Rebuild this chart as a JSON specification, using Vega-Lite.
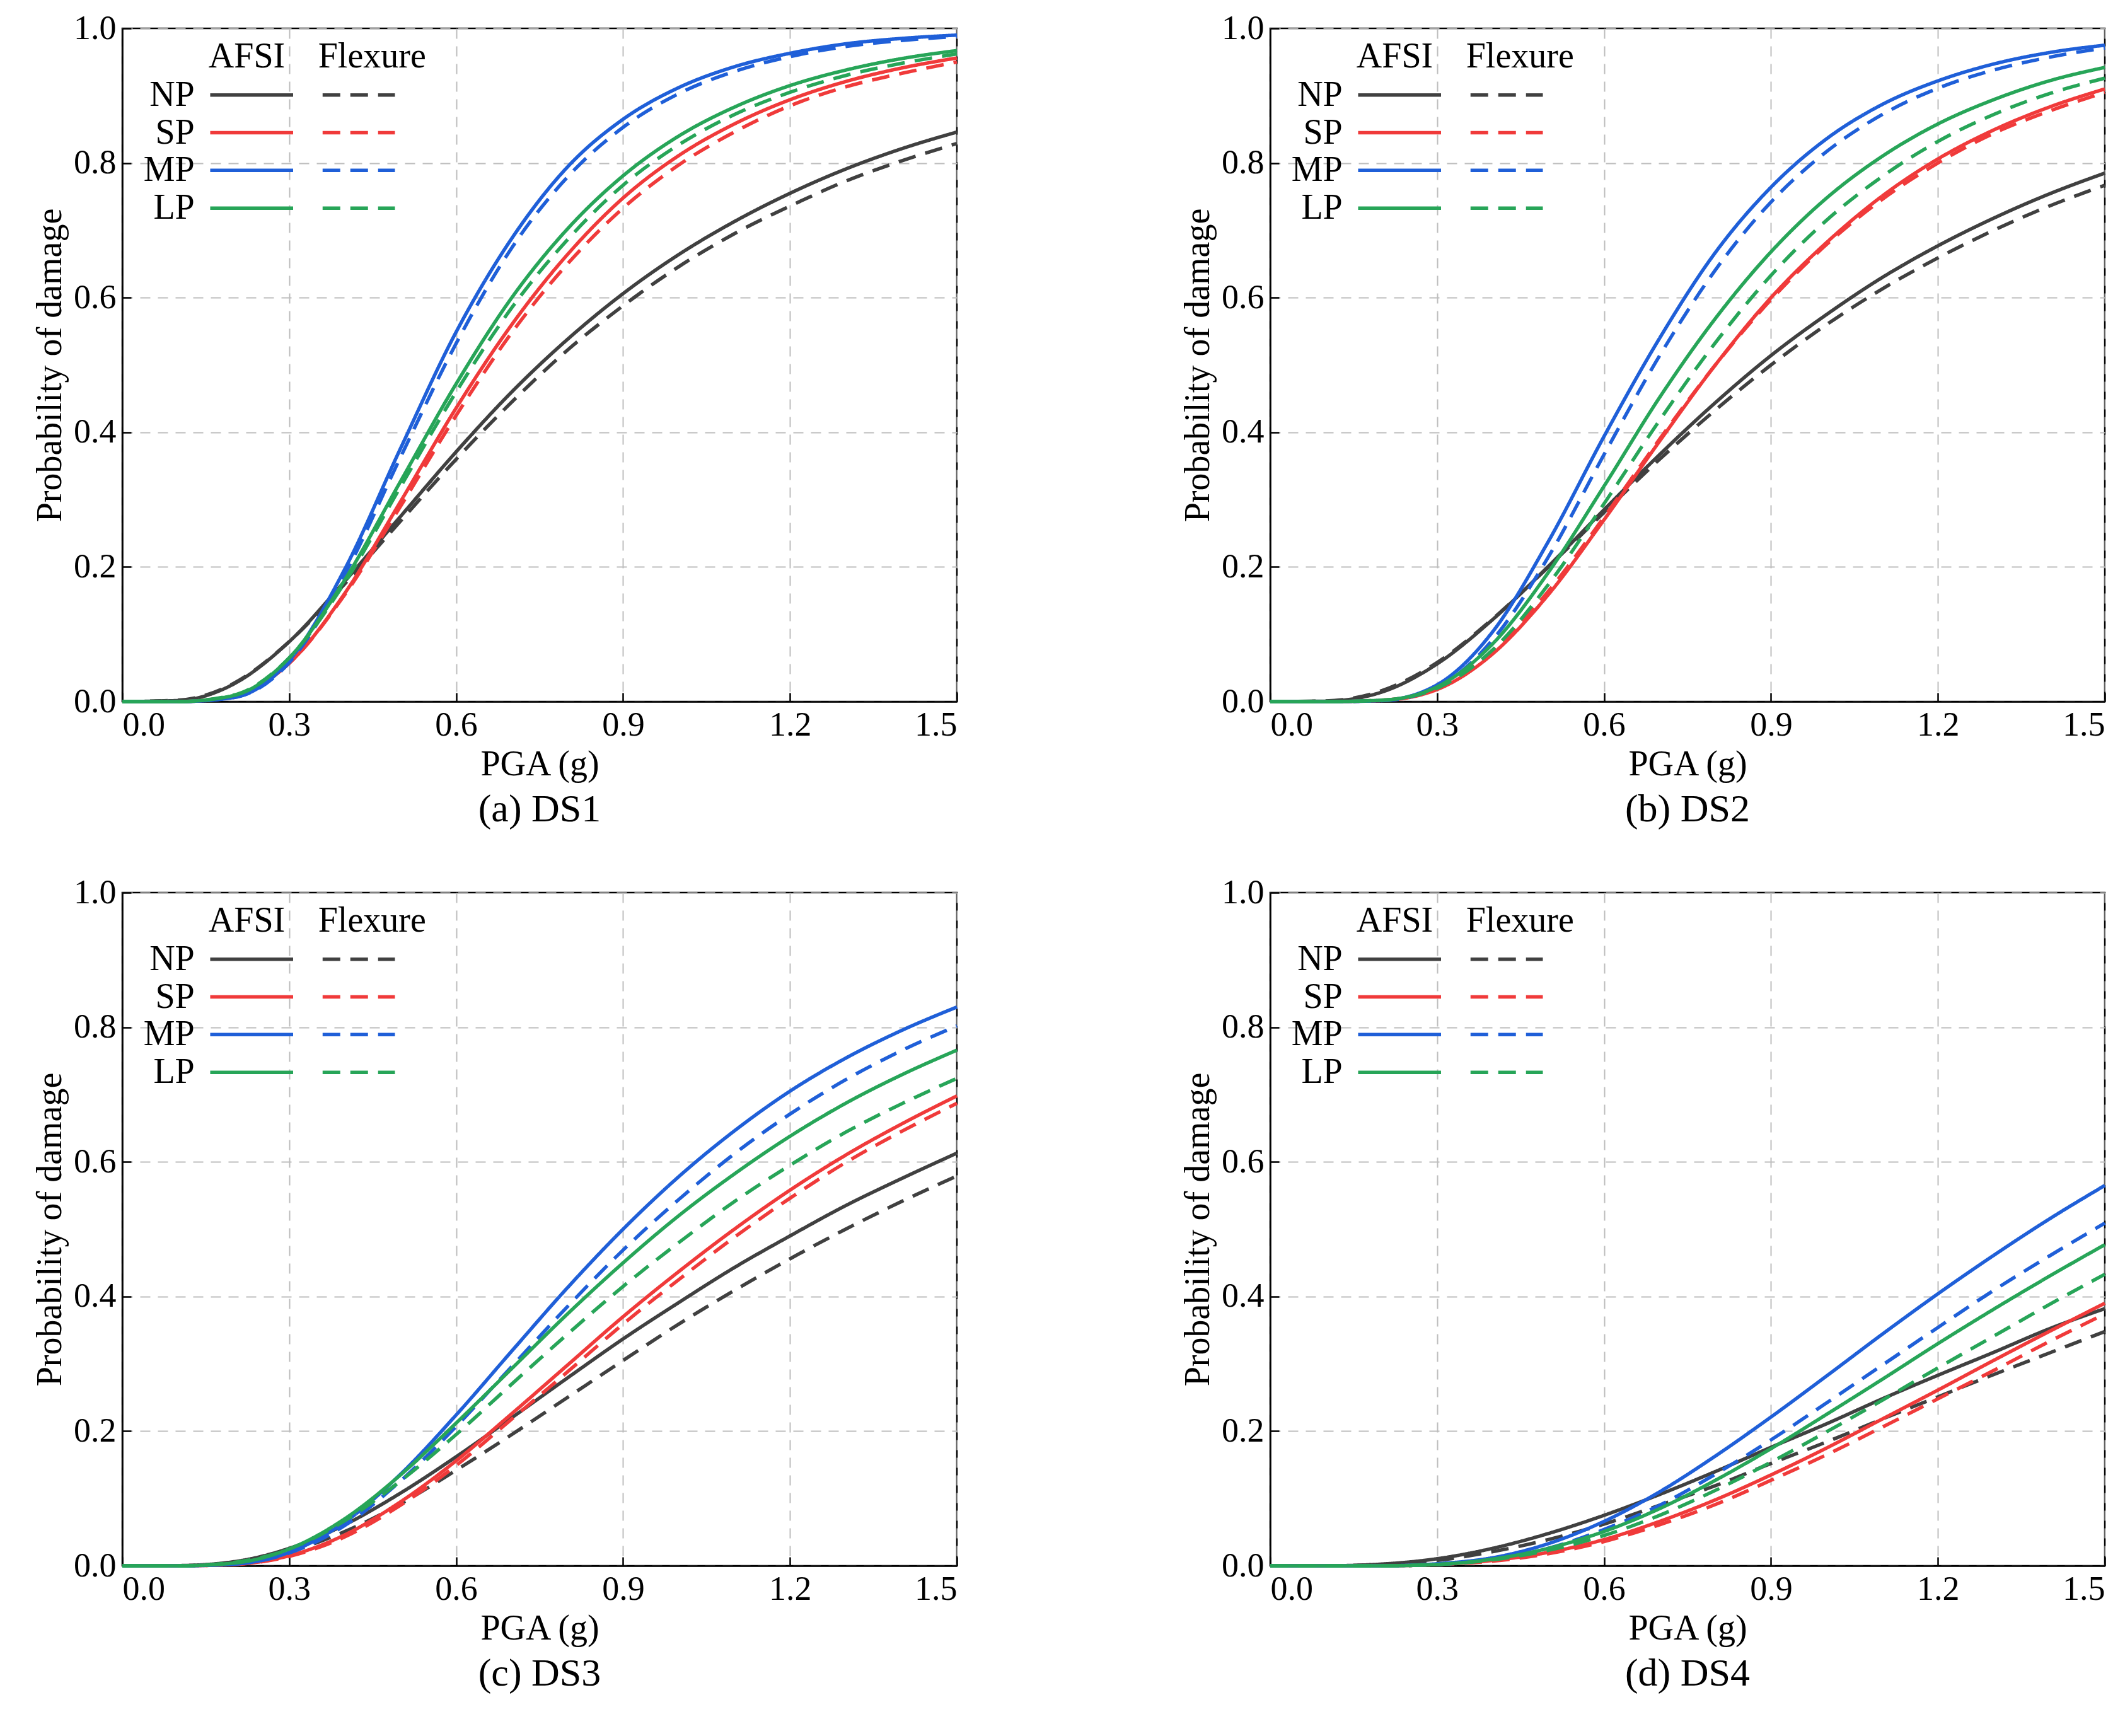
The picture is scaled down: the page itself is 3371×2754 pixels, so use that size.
{
"$schema": "https://vega.github.io/schema/vega-lite/v6.json",
"padding": {"left": 50, "top": 16, "right": 30, "bottom": 10},
"background": "white",
"config": {
  "font": "Liberation Serif",
  "view": {"stroke": "black", "strokeWidth": 2.5},
  "axis": {"labelFont": "Liberation Serif", "titleFont": "Liberation Serif", "labelFontSize": 54, "titleFontSize": 56,
           "titleFontWeight": "normal", "labelColor": "black", "titleColor": "black",
           "grid": true, "gridDash": [16, 12], "gridColor": "#bdbdbd", "gridWidth": 2,
           "domainColor": "black", "domainWidth": 2.5, "tickColor": "black", "tickWidth": 2.5, "tickSize": -14, "labelPadding": 24, "titlePadding": 8},
  "title": {"font": "Liberation Serif", "fontSize": 62, "fontWeight": "normal", "color": "black", "offset": 14},
  "concat": {"spacing": 340}
},
"datasets": {
  "curves": [
    {"p":"DS1","x":0,"NP_A":0,"NP_F":0,"SP_A":0,"SP_F":0,"MP_A":0,"MP_F":0,"LP_A":0,"LP_F":0},
    {"p":"DS1","x":0.1,"NP_A":0.0015,"NP_F":0.002,"SP_A":0,"SP_F":0,"MP_A":0,"MP_F":0,"LP_A":0,"LP_F":0},
    {"p":"DS1","x":0.2,"NP_A":0.026,"NP_F":0.027,"SP_A":0.008,"SP_F":0.0085,"MP_A":0.006,"MP_F":0.006,"LP_A":0.009,"LP_F":0.0096},
    {"p":"DS1","x":0.3,"NP_A":0.089,"NP_F":0.089,"SP_A":0.057,"SP_F":0.057,"MP_A":0.061,"MP_F":0.058,"LP_A":0.065,"LP_F":0.065},
    {"p":"DS1","x":0.4,"NP_A":0.179,"NP_F":0.175,"SP_A":0.161,"SP_F":0.159,"MP_A":0.197,"MP_F":0.189,"LP_A":0.181,"LP_F":0.177},
    {"p":"DS1","x":0.5,"NP_A":0.275,"NP_F":0.268,"SP_A":0.297,"SP_F":0.29,"MP_A":0.376,"MP_F":0.363,"LP_A":0.327,"LP_F":0.319},
    {"p":"DS1","x":0.6,"NP_A":0.371,"NP_F":0.36,"SP_A":0.436,"SP_F":0.425,"MP_A":0.549,"MP_F":0.532,"LP_A":0.472,"LP_F":0.46},
    {"p":"DS1","x":0.7,"NP_A":0.46,"NP_F":0.445,"SP_A":0.56,"SP_F":0.548,"MP_A":0.688,"MP_F":0.674,"LP_A":0.6,"LP_F":0.585},
    {"p":"DS1","x":0.8,"NP_A":0.538,"NP_F":0.522,"SP_A":0.664,"SP_F":0.65,"MP_A":0.794,"MP_F":0.779,"LP_A":0.702,"LP_F":0.686},
    {"p":"DS1","x":0.9,"NP_A":0.606,"NP_F":0.588,"SP_A":0.748,"SP_F":0.733,"MP_A":0.865,"MP_F":0.853,"LP_A":0.781,"LP_F":0.767},
    {"p":"DS1","x":1.0,"NP_A":0.664,"NP_F":0.646,"SP_A":0.811,"SP_F":0.797,"MP_A":0.912,"MP_F":0.903,"LP_A":0.84,"LP_F":0.827},
    {"p":"DS1","x":1.1,"NP_A":0.713,"NP_F":0.695,"SP_A":0.858,"SP_F":0.846,"MP_A":0.943,"MP_F":0.936,"LP_A":0.883,"LP_F":0.872},
    {"p":"DS1","x":1.2,"NP_A":0.755,"NP_F":0.736,"SP_A":0.894,"SP_F":0.885,"MP_A":0.963,"MP_F":0.958,"LP_A":0.915,"LP_F":0.905},
    {"p":"DS1","x":1.3,"NP_A":0.791,"NP_F":0.773,"SP_A":0.921,"SP_F":0.913,"MP_A":0.977,"MP_F":0.973,"LP_A":0.938,"LP_F":0.93},
    {"p":"DS1","x":1.4,"NP_A":0.821,"NP_F":0.803,"SP_A":0.941,"SP_F":0.933,"MP_A":0.985,"MP_F":0.982,"LP_A":0.955,"LP_F":0.948},
    {"p":"DS1","x":1.5,"NP_A":0.846,"NP_F":0.829,"SP_A":0.956,"SP_F":0.95,"MP_A":0.99,"MP_F":0.988,"LP_A":0.967,"LP_F":0.962},
    {"p":"DS2","x":0,"NP_A":0,"NP_F":0,"SP_A":0,"SP_F":0,"MP_A":0,"MP_F":0,"LP_A":0,"LP_F":0},
    {"p":"DS2","x":0.1,"NP_A":0.0006,"NP_F":0.001,"SP_A":0,"SP_F":0,"MP_A":0,"MP_F":0,"LP_A":0,"LP_F":0},
    {"p":"DS2","x":0.2,"NP_A":0.014,"NP_F":0.016,"SP_A":0.0016,"SP_F":0.002,"MP_A":0.0016,"MP_F":0.0013,"LP_A":0.002,"LP_F":0.002},
    {"p":"DS2","x":0.3,"NP_A":0.056,"NP_F":0.058,"SP_A":0.018,"SP_F":0.021,"MP_A":0.025,"MP_F":0.021,"LP_A":0.022,"LP_F":0.02},
    {"p":"DS2","x":0.4,"NP_A":0.122,"NP_F":0.123,"SP_A":0.071,"SP_F":0.075,"MP_A":0.104,"MP_F":0.092,"LP_A":0.086,"LP_F":0.077},
    {"p":"DS2","x":0.5,"NP_A":0.201,"NP_F":0.2,"SP_A":0.159,"SP_F":0.164,"MP_A":0.238,"MP_F":0.215,"LP_A":0.192,"LP_F":0.174},
    {"p":"DS2","x":0.6,"NP_A":0.285,"NP_F":0.281,"SP_A":0.27,"SP_F":0.274,"MP_A":0.394,"MP_F":0.367,"LP_A":0.32,"LP_F":0.294},
    {"p":"DS2","x":0.7,"NP_A":0.367,"NP_F":0.36,"SP_A":0.387,"SP_F":0.39,"MP_A":0.54,"MP_F":0.514,"LP_A":0.452,"LP_F":0.418},
    {"p":"DS2","x":0.8,"NP_A":0.444,"NP_F":0.433,"SP_A":0.5,"SP_F":0.5,"MP_A":0.667,"MP_F":0.641,"LP_A":0.569,"LP_F":0.533},
    {"p":"DS2","x":0.9,"NP_A":0.514,"NP_F":0.5,"SP_A":0.6,"SP_F":0.597,"MP_A":0.764,"MP_F":0.742,"LP_A":0.668,"LP_F":0.633},
    {"p":"DS2","x":1.0,"NP_A":0.575,"NP_F":0.56,"SP_A":0.682,"SP_F":0.679,"MP_A":0.836,"MP_F":0.817,"LP_A":0.748,"LP_F":0.715},
    {"p":"DS2","x":1.1,"NP_A":0.63,"NP_F":0.613,"SP_A":0.751,"SP_F":0.746,"MP_A":0.887,"MP_F":0.872,"LP_A":0.81,"LP_F":0.78},
    {"p":"DS2","x":1.2,"NP_A":0.677,"NP_F":0.659,"SP_A":0.806,"SP_F":0.8,"MP_A":0.922,"MP_F":0.911,"LP_A":0.858,"LP_F":0.832},
    {"p":"DS2","x":1.3,"NP_A":0.718,"NP_F":0.7,"SP_A":0.849,"SP_F":0.844,"MP_A":0.947,"MP_F":0.938,"LP_A":0.894,"LP_F":0.872},
    {"p":"DS2","x":1.4,"NP_A":0.754,"NP_F":0.736,"SP_A":0.883,"SP_F":0.877,"MP_A":0.964,"MP_F":0.957,"LP_A":0.922,"LP_F":0.903},
    {"p":"DS2","x":1.5,"NP_A":0.785,"NP_F":0.767,"SP_A":0.91,"SP_F":0.905,"MP_A":0.975,"MP_F":0.971,"LP_A":0.942,"LP_F":0.926},
    {"p":"DS3","x":0,"NP_A":0,"NP_F":0,"SP_A":0,"SP_F":0,"MP_A":0,"MP_F":0,"LP_A":0,"LP_F":0},
    {"p":"DS3","x":0.1,"NP_A":0.0003,"NP_F":0.0002,"SP_A":0,"SP_F":0,"MP_A":0,"MP_F":0,"LP_A":0,"LP_F":0},
    {"p":"DS3","x":0.2,"NP_A":0.006,"NP_F":0.005,"SP_A":0.002,"SP_F":0.002,"MP_A":0.0025,"MP_F":0.0025,"LP_A":0.004,"LP_F":0.005},
    {"p":"DS3","x":0.3,"NP_A":0.026,"NP_F":0.021,"SP_A":0.015,"SP_F":0.014,"MP_A":0.02,"MP_F":0.019,"LP_A":0.025,"LP_F":0.025},
    {"p":"DS3","x":0.4,"NP_A":0.061,"NP_F":0.051,"SP_A":0.046,"SP_F":0.043,"MP_A":0.065,"MP_F":0.06,"LP_A":0.07,"LP_F":0.067},
    {"p":"DS3","x":0.5,"NP_A":0.108,"NP_F":0.092,"SP_A":0.095,"SP_F":0.09,"MP_A":0.136,"MP_F":0.126,"LP_A":0.135,"LP_F":0.126},
    {"p":"DS3","x":0.6,"NP_A":0.162,"NP_F":0.142,"SP_A":0.156,"SP_F":0.149,"MP_A":0.224,"MP_F":0.207,"LP_A":0.212,"LP_F":0.195},
    {"p":"DS3","x":0.7,"NP_A":0.22,"NP_F":0.195,"SP_A":0.226,"SP_F":0.218,"MP_A":0.319,"MP_F":0.296,"LP_A":0.293,"LP_F":0.27},
    {"p":"DS3","x":0.8,"NP_A":0.279,"NP_F":0.25,"SP_A":0.298,"SP_F":0.288,"MP_A":0.413,"MP_F":0.385,"LP_A":0.374,"LP_F":0.344},
    {"p":"DS3","x":0.9,"NP_A":0.337,"NP_F":0.305,"SP_A":0.37,"SP_F":0.359,"MP_A":0.5,"MP_F":0.469,"LP_A":0.45,"LP_F":0.415},
    {"p":"DS3","x":1.0,"NP_A":0.391,"NP_F":0.359,"SP_A":0.437,"SP_F":0.425,"MP_A":0.578,"MP_F":0.544,"LP_A":0.52,"LP_F":0.48},
    {"p":"DS3","x":1.1,"NP_A":0.443,"NP_F":0.409,"SP_A":0.5,"SP_F":0.488,"MP_A":0.646,"MP_F":0.612,"LP_A":0.582,"LP_F":0.541},
    {"p":"DS3","x":1.2,"NP_A":0.49,"NP_F":0.456,"SP_A":0.558,"SP_F":0.546,"MP_A":0.705,"MP_F":0.671,"LP_A":0.638,"LP_F":0.595},
    {"p":"DS3","x":1.3,"NP_A":0.535,"NP_F":0.5,"SP_A":0.61,"SP_F":0.599,"MP_A":0.754,"MP_F":0.722,"LP_A":0.687,"LP_F":0.644},
    {"p":"DS3","x":1.4,"NP_A":0.575,"NP_F":0.541,"SP_A":0.656,"SP_F":0.645,"MP_A":0.795,"MP_F":0.765,"LP_A":0.729,"LP_F":0.686},
    {"p":"DS3","x":1.5,"NP_A":0.613,"NP_F":0.579,"SP_A":0.698,"SP_F":0.687,"MP_A":0.83,"MP_F":0.802,"LP_A":0.766,"LP_F":0.724},
    {"p":"DS4","x":0,"NP_A":0,"NP_F":0,"SP_A":0,"SP_F":0,"MP_A":0,"MP_F":0,"LP_A":0,"LP_F":0},
    {"p":"DS4","x":0.1,"NP_A":0,"NP_F":0,"SP_A":0,"SP_F":0,"MP_A":0,"MP_F":0,"LP_A":0,"LP_F":0},
    {"p":"DS4","x":0.2,"NP_A":0.0025,"NP_F":0.002,"SP_A":0,"SP_F":0,"MP_A":0,"MP_F":0,"LP_A":0,"LP_F":0},
    {"p":"DS4","x":0.3,"NP_A":0.0105,"NP_F":0.008,"SP_A":0.002,"SP_F":0.002,"MP_A":0.003,"MP_F":0.002,"LP_A":0.002,"LP_F":0.002},
    {"p":"DS4","x":0.4,"NP_A":0.026,"NP_F":0.021,"SP_A":0.008,"SP_F":0.007,"MP_A":0.012,"MP_F":0.01,"LP_A":0.01,"LP_F":0.009},
    {"p":"DS4","x":0.5,"NP_A":0.048,"NP_F":0.039,"SP_A":0.02,"SP_F":0.018,"MP_A":0.033,"MP_F":0.026,"LP_A":0.026,"LP_F":0.023},
    {"p":"DS4","x":0.6,"NP_A":0.075,"NP_F":0.062,"SP_A":0.039,"SP_F":0.036,"MP_A":0.066,"MP_F":0.054,"LP_A":0.051,"LP_F":0.045},
    {"p":"DS4","x":0.7,"NP_A":0.106,"NP_F":0.09,"SP_A":0.066,"SP_F":0.061,"MP_A":0.11,"MP_F":0.09,"LP_A":0.085,"LP_F":0.075},
    {"p":"DS4","x":0.8,"NP_A":0.14,"NP_F":0.119,"SP_A":0.098,"SP_F":0.091,"MP_A":0.163,"MP_F":0.136,"LP_A":0.127,"LP_F":0.112},
    {"p":"DS4","x":0.9,"NP_A":0.176,"NP_F":0.152,"SP_A":0.135,"SP_F":0.127,"MP_A":0.221,"MP_F":0.187,"LP_A":0.174,"LP_F":0.154},
    {"p":"DS4","x":1.0,"NP_A":0.211,"NP_F":0.184,"SP_A":0.175,"SP_F":0.165,"MP_A":0.282,"MP_F":0.242,"LP_A":0.225,"LP_F":0.199},
    {"p":"DS4","x":1.1,"NP_A":0.248,"NP_F":0.218,"SP_A":0.218,"SP_F":0.206,"MP_A":0.344,"MP_F":0.298,"LP_A":0.277,"LP_F":0.246},
    {"p":"DS4","x":1.2,"NP_A":0.283,"NP_F":0.251,"SP_A":0.261,"SP_F":0.248,"MP_A":0.404,"MP_F":0.354,"LP_A":0.33,"LP_F":0.294},
    {"p":"DS4","x":1.3,"NP_A":0.317,"NP_F":0.284,"SP_A":0.305,"SP_F":0.29,"MP_A":0.461,"MP_F":0.409,"LP_A":0.381,"LP_F":0.341},
    {"p":"DS4","x":1.4,"NP_A":0.352,"NP_F":0.316,"SP_A":0.348,"SP_F":0.333,"MP_A":0.515,"MP_F":0.46,"LP_A":0.43,"LP_F":0.388},
    {"p":"DS4","x":1.5,"NP_A":0.382,"NP_F":0.348,"SP_A":0.39,"SP_F":0.374,"MP_A":0.565,"MP_F":0.509,"LP_A":0.477,"LP_F":0.433}
  ],
  "leg": [
    {"k":"NP_A","x1":0.158,"x2":0.307,"y":0.901},
    {"k":"NP_F","x1":0.36,"x2":0.49,"y":0.901},
    {"k":"SP_A","x1":0.158,"x2":0.307,"y":0.845},
    {"k":"SP_F","x1":0.36,"x2":0.49,"y":0.845},
    {"k":"MP_A","x1":0.158,"x2":0.307,"y":0.789},
    {"k":"MP_F","x1":0.36,"x2":0.49,"y":0.789},
    {"k":"LP_A","x1":0.158,"x2":0.307,"y":0.733},
    {"k":"LP_F","x1":0.36,"x2":0.49,"y":0.733}
  ],
  "lab": [
    {"t":"NP","x":0.13,"y":0.901},
    {"t":"SP","x":0.13,"y":0.845},
    {"t":"MP","x":0.13,"y":0.789},
    {"t":"LP","x":0.13,"y":0.733}
  ],
  "hdr": [
    {"t":"AFSI","x":0.155,"y":0.958},
    {"t":"Flexure","x":0.352,"y":0.958}
  ]
},
"vconcat": [
 {"hconcat": [
  {"width": 1324, "height": 1068, "title": {"text": "(a) DS1", "orient": "bottom"},
   "layer": [
    {"data": {"name": "curves"}, "transform": [{"filter": "datum.p == 'DS1'"}, {"fold": ["NP_A","NP_F","SP_A","SP_F","MP_A","MP_F","LP_A","LP_F"], "as": ["k","v"]}],
     "mark": {"type": "line", "interpolate": "monotone", "strokeWidth": 5.5},
     "encoding": {
      "x": {"field": "x", "type": "quantitative", "title": "PGA (g)", "scale": {"domain": [0, 1.5], "nice": false}, "axis": {"values": [0, 0.3, 0.6, 0.9, 1.2, 1.5], "format": ".1f"}},
      "y": {"field": "v", "type": "quantitative", "title": "Probability of damage", "scale": {"domain": [0, 1], "nice": false}, "axis": {"values": [0, 0.2, 0.4, 0.6, 0.8, 1.0], "format": ".1f"}},
      "color": {"field": "k", "type": "nominal", "legend": null, "scale": {"domain": ["NP_A","NP_F","SP_A","SP_F","MP_A","MP_F","LP_A","LP_F"], "range": ["#404040","#404040","#f03a3a","#f03a3a","#1f5fd8","#1f5fd8","#27a558","#27a558"]}},
      "strokeDash": {"field": "k", "type": "nominal", "legend": null, "scale": {"domain": ["NP_A","NP_F","SP_A","SP_F","MP_A","MP_F","LP_A","LP_F"], "range": [[1,0],[28,16],[1,0],[28,16],[1,0],[28,16],[1,0],[28,16]]}}}},
    {"data": {"name": "leg"}, "mark": {"type": "rule", "strokeWidth": 5.5},
     "encoding": {"x": {"field": "x1", "type": "quantitative"}, "x2": {"field": "x2"}, "y": {"field": "y", "type": "quantitative"},
      "color": {"field": "k", "type": "nominal", "legend": null}, "strokeDash": {"field": "k", "type": "nominal", "legend": null}}},
    {"data": {"name": "lab"}, "mark": {"type": "text", "align": "right", "baseline": "middle", "fontSize": 56, "font": "Liberation Serif"},
     "encoding": {"x": {"field": "x", "type": "quantitative"}, "y": {"field": "y", "type": "quantitative"}, "text": {"field": "t"}}},
    {"data": {"name": "hdr"}, "mark": {"type": "text", "align": "left", "baseline": "middle", "fontSize": 56, "font": "Liberation Serif"},
     "encoding": {"x": {"field": "x", "type": "quantitative"}, "y": {"field": "y", "type": "quantitative"}, "text": {"field": "t"}}}
   ]},
  {"width": 1324, "height": 1068, "title": {"text": "(b) DS2", "orient": "bottom"},
   "layer": [
    {"data": {"name": "curves"}, "transform": [{"filter": "datum.p == 'DS2'"}, {"fold": ["NP_A","NP_F","SP_A","SP_F","MP_A","MP_F","LP_A","LP_F"], "as": ["k","v"]}],
     "mark": {"type": "line", "interpolate": "monotone", "strokeWidth": 5.5},
     "encoding": {
      "x": {"field": "x", "type": "quantitative", "title": "PGA (g)", "scale": {"domain": [0, 1.5], "nice": false}, "axis": {"values": [0, 0.3, 0.6, 0.9, 1.2, 1.5], "format": ".1f"}},
      "y": {"field": "v", "type": "quantitative", "title": "Probability of damage", "scale": {"domain": [0, 1], "nice": false}, "axis": {"values": [0, 0.2, 0.4, 0.6, 0.8, 1.0], "format": ".1f"}},
      "color": {"field": "k", "type": "nominal", "legend": null, "scale": {"domain": ["NP_A","NP_F","SP_A","SP_F","MP_A","MP_F","LP_A","LP_F"], "range": ["#404040","#404040","#f03a3a","#f03a3a","#1f5fd8","#1f5fd8","#27a558","#27a558"]}},
      "strokeDash": {"field": "k", "type": "nominal", "legend": null, "scale": {"domain": ["NP_A","NP_F","SP_A","SP_F","MP_A","MP_F","LP_A","LP_F"], "range": [[1,0],[28,16],[1,0],[28,16],[1,0],[28,16],[1,0],[28,16]]}}}},
    {"data": {"name": "leg"}, "mark": {"type": "rule", "strokeWidth": 5.5},
     "encoding": {"x": {"field": "x1", "type": "quantitative"}, "x2": {"field": "x2"}, "y": {"field": "y", "type": "quantitative"},
      "color": {"field": "k", "type": "nominal", "legend": null}, "strokeDash": {"field": "k", "type": "nominal", "legend": null}}},
    {"data": {"name": "lab"}, "mark": {"type": "text", "align": "right", "baseline": "middle", "fontSize": 56, "font": "Liberation Serif"},
     "encoding": {"x": {"field": "x", "type": "quantitative"}, "y": {"field": "y", "type": "quantitative"}, "text": {"field": "t"}}},
    {"data": {"name": "hdr"}, "mark": {"type": "text", "align": "left", "baseline": "middle", "fontSize": 56, "font": "Liberation Serif"},
     "encoding": {"x": {"field": "x", "type": "quantitative"}, "y": {"field": "y", "type": "quantitative"}, "text": {"field": "t"}}}
   ]}
 ]},
 {"hconcat": [
  {"width": 1324, "height": 1068, "title": {"text": "(c) DS3", "orient": "bottom"},
   "layer": [
    {"data": {"name": "curves"}, "transform": [{"filter": "datum.p == 'DS3'"}, {"fold": ["NP_A","NP_F","SP_A","SP_F","MP_A","MP_F","LP_A","LP_F"], "as": ["k","v"]}],
     "mark": {"type": "line", "interpolate": "monotone", "strokeWidth": 5.5},
     "encoding": {
      "x": {"field": "x", "type": "quantitative", "title": "PGA (g)", "scale": {"domain": [0, 1.5], "nice": false}, "axis": {"values": [0, 0.3, 0.6, 0.9, 1.2, 1.5], "format": ".1f"}},
      "y": {"field": "v", "type": "quantitative", "title": "Probability of damage", "scale": {"domain": [0, 1], "nice": false}, "axis": {"values": [0, 0.2, 0.4, 0.6, 0.8, 1.0], "format": ".1f"}},
      "color": {"field": "k", "type": "nominal", "legend": null, "scale": {"domain": ["NP_A","NP_F","SP_A","SP_F","MP_A","MP_F","LP_A","LP_F"], "range": ["#404040","#404040","#f03a3a","#f03a3a","#1f5fd8","#1f5fd8","#27a558","#27a558"]}},
      "strokeDash": {"field": "k", "type": "nominal", "legend": null, "scale": {"domain": ["NP_A","NP_F","SP_A","SP_F","MP_A","MP_F","LP_A","LP_F"], "range": [[1,0],[28,16],[1,0],[28,16],[1,0],[28,16],[1,0],[28,16]]}}}},
    {"data": {"name": "leg"}, "mark": {"type": "rule", "strokeWidth": 5.5},
     "encoding": {"x": {"field": "x1", "type": "quantitative"}, "x2": {"field": "x2"}, "y": {"field": "y", "type": "quantitative"},
      "color": {"field": "k", "type": "nominal", "legend": null}, "strokeDash": {"field": "k", "type": "nominal", "legend": null}}},
    {"data": {"name": "lab"}, "mark": {"type": "text", "align": "right", "baseline": "middle", "fontSize": 56, "font": "Liberation Serif"},
     "encoding": {"x": {"field": "x", "type": "quantitative"}, "y": {"field": "y", "type": "quantitative"}, "text": {"field": "t"}}},
    {"data": {"name": "hdr"}, "mark": {"type": "text", "align": "left", "baseline": "middle", "fontSize": 56, "font": "Liberation Serif"},
     "encoding": {"x": {"field": "x", "type": "quantitative"}, "y": {"field": "y", "type": "quantitative"}, "text": {"field": "t"}}}
   ]},
  {"width": 1324, "height": 1068, "title": {"text": "(d) DS4", "orient": "bottom"},
   "layer": [
    {"data": {"name": "curves"}, "transform": [{"filter": "datum.p == 'DS4'"}, {"fold": ["NP_A","NP_F","SP_A","SP_F","MP_A","MP_F","LP_A","LP_F"], "as": ["k","v"]}],
     "mark": {"type": "line", "interpolate": "monotone", "strokeWidth": 5.5},
     "encoding": {
      "x": {"field": "x", "type": "quantitative", "title": "PGA (g)", "scale": {"domain": [0, 1.5], "nice": false}, "axis": {"values": [0, 0.3, 0.6, 0.9, 1.2, 1.5], "format": ".1f"}},
      "y": {"field": "v", "type": "quantitative", "title": "Probability of damage", "scale": {"domain": [0, 1], "nice": false}, "axis": {"values": [0, 0.2, 0.4, 0.6, 0.8, 1.0], "format": ".1f"}},
      "color": {"field": "k", "type": "nominal", "legend": null, "scale": {"domain": ["NP_A","NP_F","SP_A","SP_F","MP_A","MP_F","LP_A","LP_F"], "range": ["#404040","#404040","#f03a3a","#f03a3a","#1f5fd8","#1f5fd8","#27a558","#27a558"]}},
      "strokeDash": {"field": "k", "type": "nominal", "legend": null, "scale": {"domain": ["NP_A","NP_F","SP_A","SP_F","MP_A","MP_F","LP_A","LP_F"], "range": [[1,0],[28,16],[1,0],[28,16],[1,0],[28,16],[1,0],[28,16]]}}}},
    {"data": {"name": "leg"}, "mark": {"type": "rule", "strokeWidth": 5.5},
     "encoding": {"x": {"field": "x1", "type": "quantitative"}, "x2": {"field": "x2"}, "y": {"field": "y", "type": "quantitative"},
      "color": {"field": "k", "type": "nominal", "legend": null}, "strokeDash": {"field": "k", "type": "nominal", "legend": null}}},
    {"data": {"name": "lab"}, "mark": {"type": "text", "align": "right", "baseline": "middle", "fontSize": 56, "font": "Liberation Serif"},
     "encoding": {"x": {"field": "x", "type": "quantitative"}, "y": {"field": "y", "type": "quantitative"}, "text": {"field": "t"}}},
    {"data": {"name": "hdr"}, "mark": {"type": "text", "align": "left", "baseline": "middle", "fontSize": 56, "font": "Liberation Serif"},
     "encoding": {"x": {"field": "x", "type": "quantitative"}, "y": {"field": "y", "type": "quantitative"}, "text": {"field": "t"}}}
   ]}
 ]}
],
"spacing": 70
}
